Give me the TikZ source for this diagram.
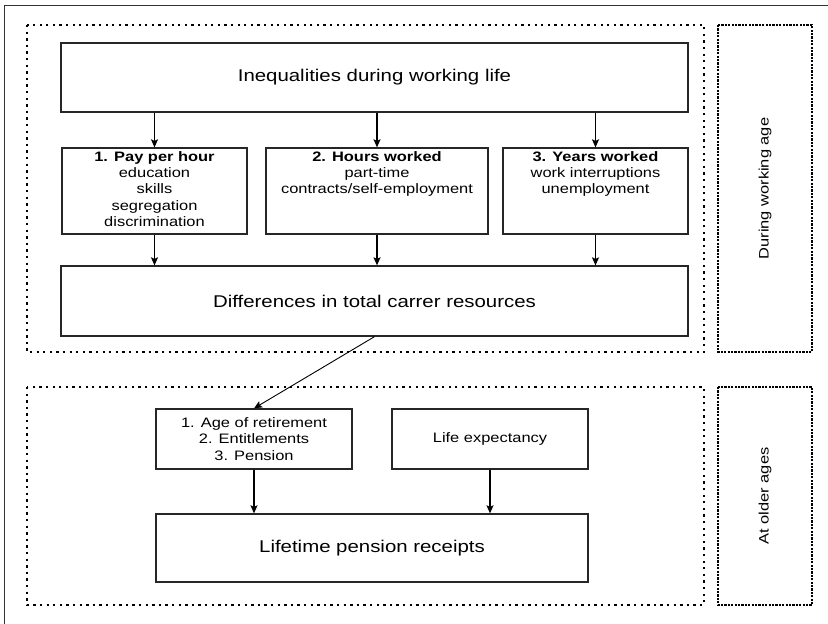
\documentclass[tikz,border=0pt]{standalone}
\usepackage{fontspec}
\setmainfont{Liberation Sans}[FakeStretch=1.2]
\usetikzlibrary{arrows.meta}
\begin{document}
\begin{tikzpicture}[x=1pt,y=-1pt,
  box/.style={draw=black!85, line width=1.3pt, inner sep=0pt},
  big/.style={font=\fontsize{17}{20}\selectfont},
  small/.style={font=\fontsize{13.7}{16.2}\selectfont, align=center},
  toptext/.style={label={[small, anchor=north, inner sep=4pt]north:{#1}}},
  flow/.style={line width=1.3pt, -{Stealth[length=8pt,width=7pt,inset=1.5pt]}},
  zone/.style={line width=2.3pt, dash pattern=on 2.3pt off 4.3pt},
  tag/.style={line width=2.3pt, dash pattern=on 2.2pt off 1.2pt},
  tagtext/.style={rotate=90, font=\fontsize{13.7}{16}\selectfont},
]
\useasboundingbox (0,0) rectangle (828,624);

% outer frame (left and top edges)
\draw[line width=1pt, black!80] (4,624) -- (4,5) -- (828,5);

% stage zones and their side tags
\draw[zone] (27,25) rectangle (704,352);
\draw[zone] (27,387) rectangle (704,605);
\draw[tag] (718,25) rectangle (812,352);
\draw[tag] (718,387) rectangle (812,605);
\node[tagtext] (tagwork) at (765,188.5) {During working age};
\node[tagtext] (tagold) at (765,496) {At older ages};

% working-life boxes
\node[box, big, minimum width=627pt, minimum height=69pt] (ineq) at (374.5,77.5)
  {Inequalities during working life};
\node[box, minimum width=185pt, minimum height=86pt,
  toptext={\textbf{1. Pay per hour}\\education\\skills\\segregation\\discrimination}]
  (pay) at (154.5,191) {};
\node[box, minimum width=222pt, minimum height=86pt,
  toptext={\textbf{2. Hours worked}\\part-time\\contracts/self-employment}]
  (hours) at (377,191) {};
\node[box, minimum width=185pt, minimum height=86pt,
  toptext={\textbf{3. Years worked}\\work interruptions\\unemployment}]
  (years) at (595.5,191) {};
\node[box, big, minimum width=627pt, minimum height=70pt] (diff) at (374.5,301)
  {Differences in total carrer resources};

% older-age boxes
\node[box, small, minimum width=196pt, minimum height=60pt] (age) at (254,439)
  {1. Age of retirement\\2. Entitlements\\3. Pension};
\node[box, small, minimum width=196pt, minimum height=60pt] (life) at (490,439)
  {Life expectancy};
\node[box, big, minimum width=432pt, minimum height=68pt] (pens) at (372,548)
  {Lifetime pension receipts};

% connectors
\draw[flow] (ineq.south -| pay) -- (pay.north);
\draw[flow] (ineq.south -| hours) -- (hours.north);
\draw[flow] (ineq.south -| years) -- (years.north);
\draw[flow] (pay.south) -- (pay.south |- diff.north);
\draw[flow] (hours.south) -- (hours.south |- diff.north);
\draw[flow] (years.south) -- (years.south |- diff.north);
\draw[flow, line width=0.9pt] (diff.south) -- (age.north);
\draw[flow] (age.south) -- (age.south |- pens.north);
\draw[flow] (life.south) -- (life.south |- pens.north);
\end{tikzpicture}
\end{document}
